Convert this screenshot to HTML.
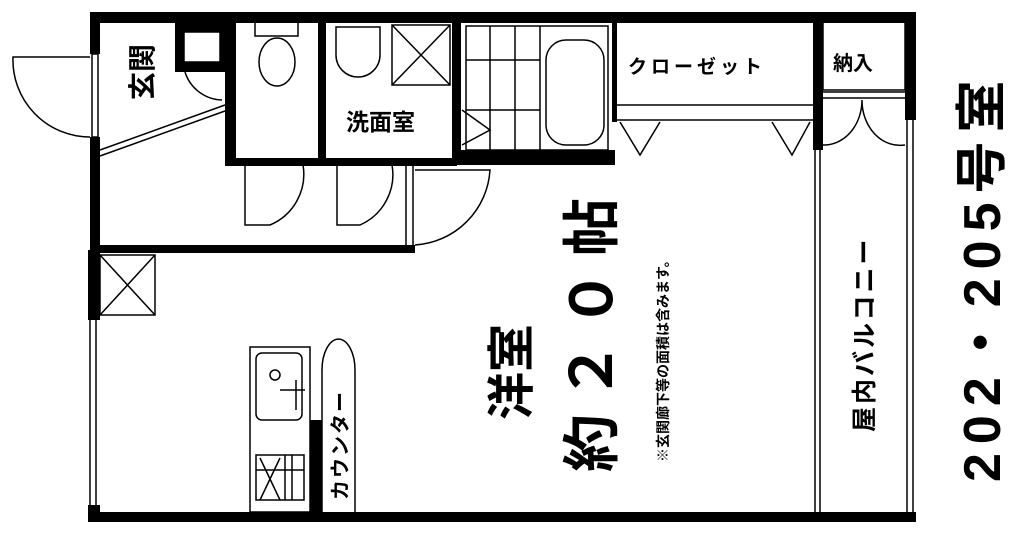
<!DOCTYPE html>
<html><head><meta charset="utf-8"><style>
html,body{margin:0;padding:0;background:#fff;}
svg{display:block;}
text{font-family:"Liberation Sans","Noto Sans CJK JP",sans-serif;font-weight:bold;fill:#000;}
</style></head><body>
<svg width="1014" height="556" viewBox="0 0 1014 556" xmlns="http://www.w3.org/2000/svg">
<g fill="#000">
<rect x="90" y="12" width="826" height="11"/>
<rect x="88" y="512" width="828" height="10"/>
<rect x="90" y="12" width="10" height="42"/>
<rect x="90" y="137" width="10" height="118"/>
<rect x="88" y="250" width="12" height="70"/>
<rect x="88" y="505" width="12" height="17"/>
<rect x="100" y="245" width="315" height="8"/>
<rect x="905" y="12" width="11" height="108"/>
<rect x="225" y="22" width="11" height="143"/>
<rect x="225" y="158" width="232" height="8"/>
<rect x="318" y="22" width="8" height="143"/>
<rect x="452" y="22" width="9" height="143"/>
<rect x="452" y="150" width="163" height="15"/>
<rect x="612" y="22" width="5" height="100"/>
<rect x="813" y="22" width="10" height="128"/>
<rect x="175" y="22" width="50" height="50"/>
<rect x="310" y="420" width="12" height="92"/>
</g>
<g fill="none" stroke="#000" stroke-width="1.5">
<rect x="92" y="54" width="6" height="83" fill="#fff"/>
<path d="M90 57 H13 A77 77 0 0 0 90 137"/>
<rect x="184" y="32" width="36" height="30" fill="#fff"/>
<path d="M100 150 L225 105 M100 156 L225 111"/>
<path d="M185 72 A40 40 0 0 0 222 100"/>
<path d="M255 22 V36 H298 V22"/>
<ellipse cx="277" cy="62" rx="18" ry="24"/>
<path d="M336 27 H380 V55 A22 22 0 0 1 336 55 Z"/>
<rect x="392" y="25" width="58" height="60"/>
<path d="M392 25 L450 85 M450 25 L392 85"/>
<rect x="466" y="26" width="142" height="124"/>
<path d="M540 26 V150 M466 60 H540 M466 110 H540 M490 26 V150 M515 26 V150"/>
<rect x="546" y="40" width="58" height="105" rx="20"/>
<path d="M456 85 V150 M462 110 L490 130 L462 145"/>
<path d="M617 105 H813 M617 120 H813"/>
<path d="M620 122 L640 155 L660 122 M772 122 L792 155 L810 122"/>
<rect x="823" y="22" width="82" height="68"/>
<path d="M823 92 H905 M823 98 H905"/>
<path d="M823 145 A38 45 0 0 0 862 100 A38 45 0 0 0 905 145"/>
<path d="M815 150 V512 M820 150 V512 M907 120 V512 M913 120 V512"/>
<path d="M245 165 V225 H270 A55 55 0 0 0 303 165"/>
<path d="M337 165 V225 H360 A55 55 0 0 0 392 165"/>
<path d="M406 166 V250 M413 166 V250"/>
<path d="M415 170 H490 A80 80 0 0 1 415 245"/>
<rect x="100" y="255" width="55" height="60"/>
<path d="M100 255 L155 315 M155 255 L100 315"/>
<path d="M90 320 V505 M96 320 V505"/>
<rect x="250" y="347" width="60" height="165"/>
<rect x="256" y="353" width="46" height="67" rx="6"/>
<circle cx="275" cy="375" r="5"/>
<path d="M280 390 H305 M296 380 V410"/>
<rect x="256" y="455" width="48" height="45"/>
<path d="M256 470 H304 M260 458 L280 500 M280 458 L260 500 M285 455 V500 M292 455 V500"/>
<path d="M322 512 V370 A16 30 0 0 1 355 370 V512"/>
</g>
<g>
<text transform="translate(152,100) rotate(-90)" font-size="28">玄関</text>
<text x="346" y="130" font-size="23">洗面室</text>
<text x="628" y="73" font-size="19" letter-spacing="4">クローゼット</text>
<text x="833" y="70" font-size="20">納入</text>
<text transform="translate(347,500) rotate(-90)" font-size="20" letter-spacing="2">カウンター</text>
<text transform="translate(528,420) rotate(-90)" font-size="48">洋室</text>
<text transform="translate(612,472) rotate(-90)" font-size="58" letter-spacing="14">約２０帖</text>
<text transform="translate(668,462) rotate(-90)" font-size="14">※玄関廊下等の面積は含みます。</text>
<text transform="translate(873,432) rotate(-90)" font-size="25" font-weight="normal" letter-spacing="3">屋内バルコニー</text>
<text transform="translate(1000,482) rotate(-90)" font-size="52" letter-spacing="9">202・205号室</text>
</g>
</svg>
</body></html>
